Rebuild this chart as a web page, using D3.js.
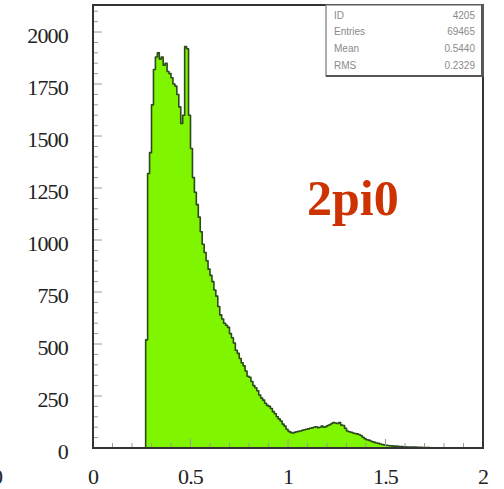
<!DOCTYPE html>
<html>
<head>
<meta charset="utf-8">
<script src="https://cdn.jsdelivr.net/npm/d3@7"></script>
<style>
  html, body { margin: 0; padding: 0; background: #fff; }
  svg { display: block; }
</style>
</head>
<body>
<svg id="chart" width="504" height="489"></svg>
<script>
// Histogram binning (x from 0 to 2, bin width 0.01)
const binStart = 0.27;
const binWidth = 0.01;
const counts = [
  520, 1320, 1420, 1650, 1820, 1880, 1900, 1870, 1880, 1840,
  1850, 1810, 1800, 1780, 1750, 1740, 1700, 1640, 1560, 1600,
  1930, 1920, 1600, 1440, 1300, 1230, 1170, 1110, 1040, 980,
  940, 900, 860, 830, 800, 760, 730, 680, 640, 620,
  600, 590, 580, 550, 530, 505, 470, 455, 430, 410,
  395, 370, 345, 340, 320, 300, 290, 275, 255, 240,
  230, 215, 205, 200, 190, 175, 165, 150, 140, 130,
  115, 105, 90, 80, 75, 72, 75, 78, 80, 82,
  85, 88, 90, 92, 95, 97, 100, 102, 98, 100,
  105, 100, 103, 108, 112, 118, 122, 120, 118, 122,
  110, 108, 95, 82, 78, 76, 72, 70, 68, 65,
  60, 52, 45, 40, 38, 34, 30, 27, 24, 22,
  19, 17, 15, 13, 12, 11, 10, 9, 9, 8,
  7, 7, 6, 6, 5, 5, 4, 4, 4, 3,
  3, 3, 2, 2, 2, 2, 1, 1, 1, 1,
  1, 0
];

const xTicks = [0, 0.5, 1, 1.5, 2];
const xTickLabels = ["0", "0.5", "1", "1.5", "2"];
const yTicks = [0, 250, 500, 750, 1000, 1250, 1500, 1750, 2000];

const statLabels = ["ID", "Entries", "Mean", "RMS"];
const statValues = ["4205", "69465", "0.5440", "0.2329"];

const title = "2pi0";

const svg = d3.select("#chart");
const frame = { left: 93, right: 483, top: 5, bottom: 448 };

const x = d3.scaleLinear().domain([0, 2]).range([frame.left, frame.right]);
const y = d3.scaleLinear().domain([0, 2130]).range([frame.bottom, frame.top]);

// Build step outline of the histogram
const bins = counts.map((c, i) => ({ x0: binStart + i * binWidth, v: c }));
const steps = [];
steps.push([bins[0].x0, 0]);
bins.forEach(b => {
  steps.push([b.x0, b.v]);
  steps.push([b.x0 + binWidth, b.v]);
});
steps.push([bins[bins.length - 1].x0 + binWidth, 0]);

const line = d3.line().x(d => x(d[0])).y(d => y(d[1]));

svg.append("path")
  .attr("d", line(steps) + "Z")
  .attr("fill", "#7ff500")
  .attr("stroke", "none");

svg.append("path")
  .attr("d", line(steps))
  .attr("fill", "none")
  .attr("stroke", "#2c4a1c")
  .attr("stroke-width", 1.6)
  .attr("stroke-linejoin", "round");

// Minor and major ticks drawn inside the frame
const tickG = svg.append("g").attr("stroke", "#9a9a9a").attr("stroke-width", 1);
d3.range(0, 2.0001, 0.1).forEach(v => {
  const major = Math.abs(v * 2 - Math.round(v * 2)) < 1e-6;
  tickG.append("line")
    .attr("x1", x(v)).attr("x2", x(v))
    .attr("y1", frame.bottom).attr("y2", frame.bottom - (major ? 9 : 5));
});
d3.range(0, 2130, 50).forEach(v => {
  const major = v % 250 === 0;
  tickG.append("line")
    .attr("x1", frame.left).attr("x2", frame.left + (major ? 9 : 5))
    .attr("y1", y(v)).attr("y2", y(v));
});

// Frame
svg.append("rect")
  .attr("x", frame.left).attr("y", frame.top)
  .attr("width", frame.right - frame.left)
  .attr("height", frame.bottom - frame.top)
  .attr("fill", "none")
  .attr("stroke", "#333")
  .attr("stroke-width", 2);

// Axis labels
const font = "'Liberation Serif', 'Times New Roman', serif";
svg.append("g").selectAll("text").data(yTicks).join("text")
  .attr("x", 68)
  .attr("y", d => y(d) + 3)
  .attr("dy", "0.35em")
  .attr("text-anchor", "end")
  .attr("font-family", font)
  .attr("font-size", 22)
  .attr("letter-spacing", -0.8)
  .attr("fill", "#222")
  .text(d => d);

svg.append("g").selectAll("text").data(xTicks).join("text")
  .attr("x", d => x(d))
  .attr("y", 484)
  .attr("text-anchor", "middle")
  .attr("font-family", font)
  .attr("font-size", 22)
  .attr("letter-spacing", -0.8)
  .attr("fill", "#222")
  .text((d, i) => xTickLabels[i]);

// Neighbouring panel's label at the left edge
svg.append("text")
  .attr("x", 3).attr("y", 484)
  .attr("text-anchor", "end")
  .attr("font-family", font)
  .attr("font-size", 22)
  .attr("fill", "#222")
  .text("0");

// Statistics box
const box = { x0: 326, x1: 483, y0: 5, y1: 76 };
svg.append("rect")
  .attr("x", box.x0).attr("y", box.y0)
  .attr("width", box.x1 - box.x0).attr("height", box.y1 - box.y0)
  .attr("fill", "#fff")
  .attr("stroke", "#777")
  .attr("stroke-width", 1.2);
svg.append("line")
  .attr("x1", box.x0).attr("x2", box.x1)
  .attr("y1", box.y1).attr("y2", box.y1)
  .attr("stroke", "#555").attr("stroke-width", 2);
svg.append("line")
  .attr("x1", box.x1 - 1).attr("x2", box.x1 - 1)
  .attr("y1", box.y0).attr("y2", box.y1)
  .attr("stroke", "#555").attr("stroke-width", 2);

const rowY = d3.scalePoint().domain(d3.range(statLabels.length)).range([15, 65]);
svg.append("g").selectAll("text").data(statLabels).join("text")
  .attr("x", box.x0 + 8)
  .attr("y", (d, i) => rowY(i))
  .attr("dy", "0.35em")
  .attr("font-family", "'Liberation Sans', Arial, sans-serif")
  .attr("font-size", 10)
  .attr("fill", "#8a8a8a")
  .text(d => d);
svg.append("g").selectAll("text").data(statValues).join("text")
  .attr("x", box.x1 - 8)
  .attr("y", (d, i) => rowY(i))
  .attr("dy", "0.35em")
  .attr("text-anchor", "end")
  .attr("font-family", "'Liberation Sans', Arial, sans-serif")
  .attr("font-size", 10)
  .attr("fill", "#8a8a8a")
  .text(d => d);

// Title
svg.append("text")
  .attr("x", 307).attr("y", 215)
  .attr("font-family", font)
  .attr("font-weight", "bold")
  .attr("font-size", 50)
  .attr("fill", "#cc3300")
  .text(title);
</script>
</body>
</html>
